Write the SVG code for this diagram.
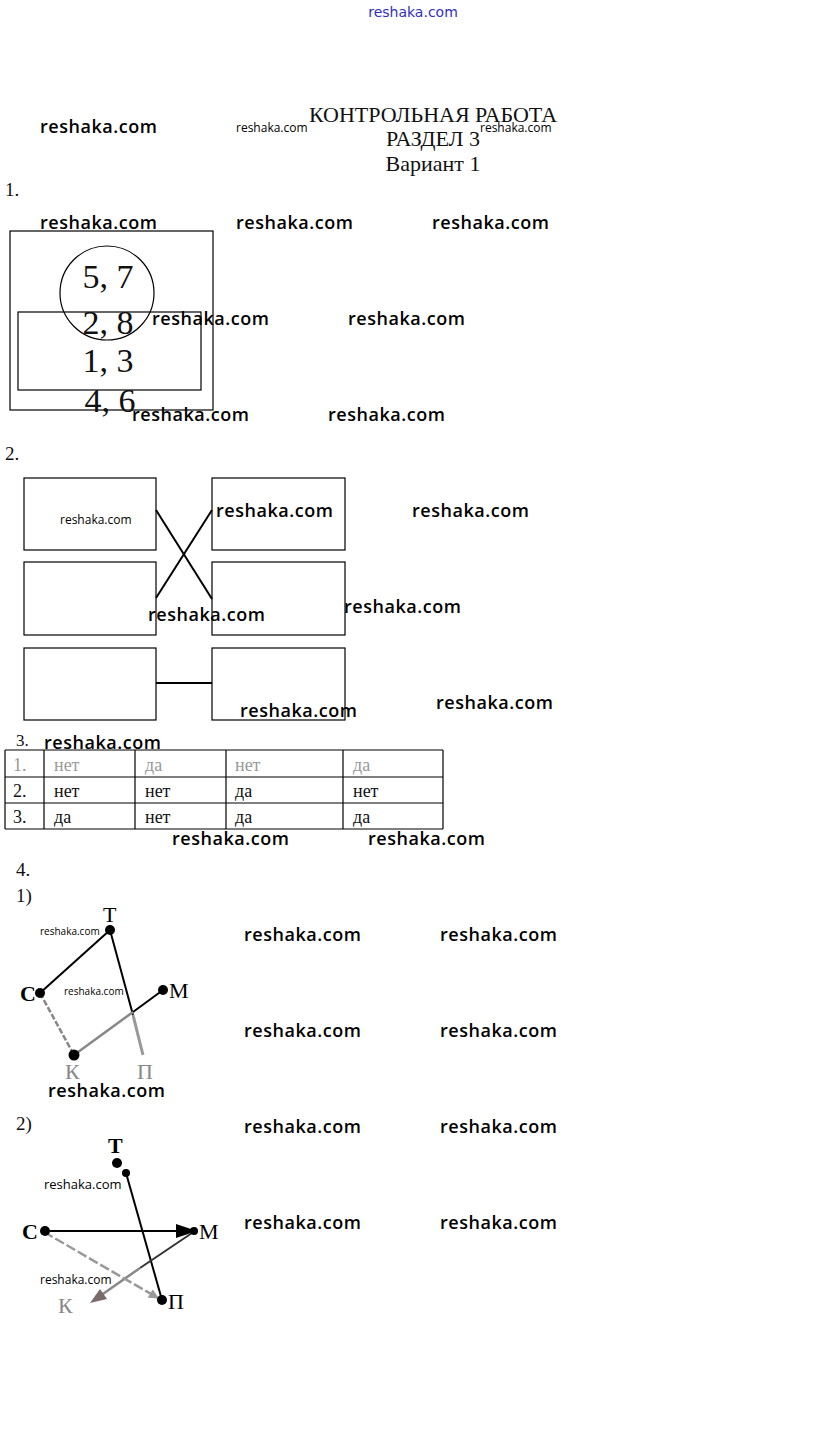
<svg xmlns="http://www.w3.org/2000/svg" width="823" height="1435" viewBox="0 0 823 1435">
<style>
.wm{font-family:"Open Sans","DejaVu Sans",sans-serif;font-size:18px;font-weight:600;fill:#000}
.ws{font-family:"Open Sans","DejaVu Sans",sans-serif;fill:#000}
.sr{font-family:"Liberation Serif","DejaVu Serif",serif;fill:#111}
.big{font-family:"Liberation Serif","DejaVu Serif",serif;font-size:34px;fill:#111;text-anchor:middle}
.box{fill:none;stroke:#000;stroke-width:1.2}
.ln{stroke:#000;stroke-width:2;fill:none}
.gl{stroke:#888;stroke-width:2.5;fill:none;stroke-dasharray:6 2}
.dot{fill:#000}
.lbl{font-family:"Liberation Serif","DejaVu Serif",serif;font-size:22px;fill:#000}
.lblg{font-family:"Liberation Serif","DejaVu Serif",serif;font-size:22px;fill:#888}
.td{font-family:"Liberation Serif","DejaVu Serif",serif;font-size:18px;fill:#111}
.tg{font-family:"Liberation Serif","DejaVu Serif",serif;font-size:18px;fill:#999}
</style>
<defs>
<marker id="ag2" viewBox="0 0 10 10" refX="9" refY="5" markerWidth="4" markerHeight="4" orient="auto" markerUnits="strokeWidth"><path d="M0,0 L10,5 L0,10 z" fill="#999"/></marker>
</defs>
<rect width="823" height="1435" fill="#fff"/>

<g id="header">
<text x="413" y="17" text-anchor="middle" font-family="'DejaVu Sans',sans-serif" font-size="14" fill="#3030c0">reshaka.com</text>
<text x="433" y="122" text-anchor="middle" class="sr" font-size="22">КОНТРОЛЬНАЯ РАБОТА</text>
<text x="433" y="146" text-anchor="middle" class="sr" font-size="22" fill="#333">РАЗДЕЛ 3</text>
<text x="433" y="171" text-anchor="middle" class="sr" font-size="22" fill="#555">Вариант 1</text>
</g>

<g id="watermarks">
<text class="wm" x="40" y="133" textLength="117">reshaka.com</text>
<text class="ws" x="236" y="132" font-size="12">reshaka.com</text>
<text class="ws" x="480" y="132" font-size="12">reshaka.com</text>
<text class="wm" x="40" y="229" textLength="117">reshaka.com</text>
<text class="wm" x="236" y="229" textLength="117">reshaka.com</text>
<text class="wm" x="432" y="229" textLength="117">reshaka.com</text>
<text class="wm" x="152" y="325" textLength="117">reshaka.com</text>
<text class="wm" x="348" y="325" textLength="117">reshaka.com</text>
<text class="wm" x="132" y="421" textLength="117">reshaka.com</text>
<text class="wm" x="328" y="421" textLength="117">reshaka.com</text>
<text class="ws" x="60" y="524" font-size="12">reshaka.com</text>
<text class="wm" x="216" y="517" textLength="117">reshaka.com</text>
<text class="wm" x="412" y="517" textLength="117">reshaka.com</text>
<text class="wm" x="148" y="621" textLength="117">reshaka.com</text>
<text class="wm" x="344" y="613" textLength="117">reshaka.com</text>
<text class="wm" x="240" y="717" textLength="117">reshaka.com</text>
<text class="wm" x="436" y="709" textLength="117">reshaka.com</text>
<text class="wm" x="44" y="749" textLength="117">reshaka.com</text>
<text class="wm" x="172" y="845" textLength="117">reshaka.com</text>
<text class="wm" x="368" y="845" textLength="117">reshaka.com</text>
<text class="wm" x="244" y="941" textLength="117">reshaka.com</text>
<text class="wm" x="440" y="941" textLength="117">reshaka.com</text>
<text class="ws" x="40" y="935" font-size="10">reshaka.com</text>
<text class="ws" x="64" y="995" font-size="10">reshaka.com</text>
<text class="wm" x="244" y="1037" textLength="117">reshaka.com</text>
<text class="wm" x="440" y="1037" textLength="117">reshaka.com</text>
<text class="wm" x="48" y="1097" textLength="117">reshaka.com</text>
<text class="wm" x="244" y="1133" textLength="117">reshaka.com</text>
<text class="wm" x="440" y="1133" textLength="117">reshaka.com</text>
<text class="ws" x="44" y="1189" font-size="13">reshaka.com</text>
<text class="wm" x="244" y="1229" textLength="117">reshaka.com</text>
<text class="wm" x="440" y="1229" textLength="117">reshaka.com</text>
<text class="ws" x="40" y="1284" font-size="12">reshaka.com</text>
</g>

<g id="task1">
<text class="sr" x="5" y="196" font-size="19">1.</text>
<rect class="box" x="10" y="231" width="203" height="179"/>
<circle class="box" cx="107" cy="293" r="47"/>
<rect class="box" x="18" y="312" width="183" height="78"/>
<text class="big" x="108" y="288">5, 7</text>
<text class="big" x="108" y="334">2, 8</text>
<text class="big" x="108" y="372">1, 3</text>
<text class="big" x="110" y="412">4, 6</text>
</g>

<g id="task2">
<text class="sr" x="5" y="460" font-size="19">2.</text>
<g id="b1"><rect class="box" x="24" y="478" width="132" height="72"/></g>
<g id="b2"><rect class="box" x="212" y="478" width="133" height="72"/></g>
<g id="b3"><rect class="box" x="24" y="562" width="132" height="73"/></g>
<g id="b4"><rect class="box" x="212" y="562" width="133" height="73"/></g>
<g id="b5"><rect class="box" x="24" y="648" width="132" height="72"/></g>
<g id="b6"><rect class="box" x="212" y="648" width="133" height="72"/></g>
<g id="task2-links">
<line class="ln" x1="156" y1="510" x2="212" y2="599"/>
<line class="ln" x1="156" y1="598" x2="212" y2="510"/>
<line class="ln" x1="156" y1="683" x2="212" y2="683"/>
</g>
</g>

<g id="task3">
<text class="sr" x="16" y="746" font-size="17" fill="#666">3.</text>
<g stroke="#000" stroke-width="1.2">
<line x1="5" y1="750" x2="443" y2="750"/>
<line x1="5" y1="777" x2="443" y2="777"/>
<line x1="5" y1="803" x2="443" y2="803"/>
<line x1="5" y1="829" x2="443" y2="829"/>
<line x1="5" y1="750" x2="5" y2="829"/>
<line x1="44" y1="750" x2="44" y2="829"/>
<line x1="135" y1="750" x2="135" y2="829"/>
<line x1="226" y1="750" x2="226" y2="829"/>
<line x1="343" y1="750" x2="343" y2="829"/>
<line x1="443" y1="750" x2="443" y2="829"/>
</g>
<text class="tg" x="13" y="771">1.</text>
<text class="tg" x="54" y="771">нет</text>
<text class="tg" x="145" y="771">да</text>
<text class="tg" x="235" y="771">нет</text>
<text class="tg" x="353" y="771">да</text>
<text class="td" x="13" y="797">2.</text>
<text class="td" x="54" y="797">нет</text>
<text class="td" x="145" y="797">нет</text>
<text class="td" x="235" y="797">да</text>
<text class="td" x="353" y="797">нет</text>
<text class="td" x="13" y="823">3.</text>
<text class="td" x="54" y="823">да</text>
<text class="td" x="145" y="823">нет</text>
<text class="td" x="235" y="823">да</text>
<text class="td" x="353" y="823">да</text>
</g>

<g id="task4">
<text class="sr" x="16" y="876" font-size="19">4.</text>
<text class="sr" x="16" y="902" font-size="19">1)</text>
<g id="graph1-edges">
<line class="ln" x1="40" y1="993" x2="110" y2="930" stroke-width="3"/>
<line class="ln" x1="110" y1="930" x2="133" y2="1015" stroke-width="3.5"/>
<line stroke="#999" stroke-width="3" x1="133" y1="1015" x2="143" y2="1055"/>
<line class="ln" x1="163" y1="990" x2="133" y2="1012" stroke-width="3"/>
<line stroke="#888" stroke-width="2.5" x1="133" y1="1012" x2="74" y2="1055"/>
<line class="gl" x1="40" y1="993" x2="74" y2="1055"/>
</g>
<g id="g1-T"><circle class="dot" cx="110" cy="930" r="5"/><text class="lbl" x="103" y="922">Т</text></g>
<g id="g1-C"><circle class="dot" cx="40" cy="993" r="5"/><text class="lbl" x="20" y="1001" font-weight="bold">С</text></g>
<g id="g1-M"><circle class="dot" cx="163" cy="990" r="5"/><text class="lbl" x="169" y="998">М</text></g>
<g id="g1-K"><circle class="dot" cx="74" cy="1055" r="5.5"/><text class="lblg" x="65" y="1079">К</text></g>
<g id="g1-P"><text class="lblg" x="137" y="1079">П</text></g>

<text class="sr" x="16" y="1130" font-size="19">2)</text>
<g id="graph2-edges">
<line class="ln" x1="126" y1="1173" x2="162" y2="1300" stroke-width="2.5"/>
<line class="ln" x1="44" y1="1231" x2="180" y2="1231" stroke-width="3"/>
<polygon points="176,1224 176,1238 197,1231" fill="#000"/>
<line stroke="#333" stroke-width="2" x1="192" y1="1233" x2="140" y2="1268"/>
<line stroke="#888" stroke-width="2.5" x1="140" y1="1268" x2="100" y2="1296"/>
<polygon points="90,1303 107,1299 100,1289" fill="#7a6a6a"/>
<line stroke="#999" stroke-width="2.5" stroke-dasharray="10 3" x1="44" y1="1232" x2="158" y2="1298" marker-end="url(#ag2)"/>
</g>
<g id="g2-T"><circle class="dot" cx="117" cy="1163" r="5"/><circle class="dot" cx="126" cy="1173" r="4"/><text class="lbl" x="108" y="1153" font-weight="bold">Т</text></g>
<g id="g2-C"><circle class="dot" cx="45" cy="1231" r="5"/><text class="lbl" x="22" y="1239" font-weight="bold">С</text></g>
<g id="g2-M"><circle class="dot" cx="194" cy="1231" r="4"/><text class="lbl" x="199" y="1239">М</text></g>
<g id="g2-K"><text class="lblg" x="58" y="1313">К</text></g>
<g id="g2-P"><circle class="dot" cx="162" cy="1300" r="5"/><text class="lbl" x="168" y="1309">П</text></g>
</g>
</svg>
